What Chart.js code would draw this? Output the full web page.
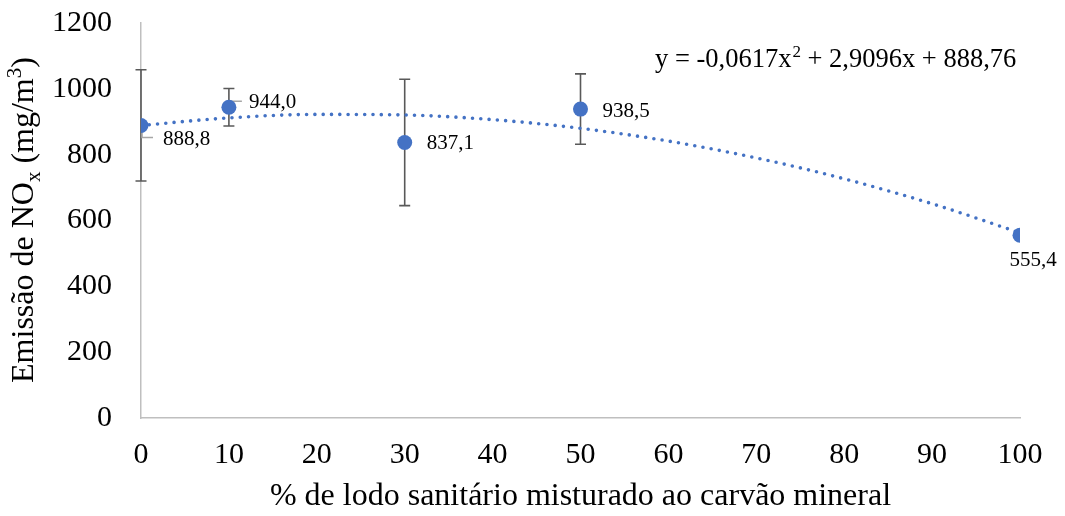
<!DOCTYPE html>
<html><head><meta charset="utf-8">
<script src="https://cdn.jsdelivr.net/npm/chart.js@4"></script>
<style>html,body{margin:0;padding:0;background:#fff}#wrap{width:1065px;height:516px;position:relative}</style>
</head><body><div id="wrap"><canvas id="c"></canvas></div>
<script>
// ---- data ----
const categories = [0, 10, 30, 50, 100];
const noxValues  = [888.8, 944.0, 837.1, 938.5, 555.4];
const noxErrors  = [169, 57, 192, 107, 0];
const trendX = [0, 10, 20, 30, 40, 50, 60, 70, 80, 90, 100];
const trendY = [888.8, 911.7, 922.3, 920.5, 906.4, 880.0, 841.2, 790.1, 726.6, 650.9, 562.7];
const xTicks = [0, 10, 20, 30, 40, 50, 60, 70, 80, 90, 100];
const yTicks = [0, 200, 400, 600, 800, 1000, 1200];
const xTitle = '% de lodo sanitário misturado ao carvão mineral';
const yTitleParts = ['Emissão de NO', 'x', ' (mg/m', '3', ')'];
const equationParts = ['y = -0,0617x', '2', ' + 2,9096x + 888,76'];

const SERIF = '"Liberation Serif", "Times New Roman", serif';
const BLUE = '#4472C4';

// label placement relative to each point: [dx, dy] of text left/middle, leader path
const labelLayout = [
  {dx: 22, dy: 14, align: 'left', leader: [[1, 5], [1, 12], [12, 12]]},
  {dx: 20, dy: -5, align: 'left', leader: [[1, -1], [1, -6], [13, -6]]},
  {dx: 22, dy: 1, align: 'left', leader: null},
  {dx: 22, dy: 2, align: 'left', leader: null},
  {dx: 13, dy: 25, align: 'center', leader: null}
];

const errorBarPlugin = {
  id: 'errorBars',
  beforeDatasetsDraw(chart) {
    const {ctx, scales: {x, y}} = chart;
    ctx.save();
    ctx.strokeStyle = '#595959';
    ctx.lineWidth = 1.6;
    categories.forEach((cx, i) => {
      const e = noxErrors[i];
      if (!e) return;
      const px = x.getPixelForValue(cx);
      const yt = y.getPixelForValue(noxValues[i] + e);
      const yb = y.getPixelForValue(noxValues[i] - e);
      ctx.beginPath();
      ctx.moveTo(px, yt); ctx.lineTo(px, yb);
      ctx.moveTo(px - 5.5, yt); ctx.lineTo(px + 5.5, yt);
      ctx.moveTo(px - 5.5, yb); ctx.lineTo(px + 5.5, yb);
      ctx.stroke();
    });
    ctx.strokeStyle = '#A6A6A6';
    ctx.lineWidth = 1.6;
    categories.forEach((cx, i) => {
      const L = labelLayout[i];
      if (!L.leader) return;
      const px = x.getPixelForValue(cx);
      const py = y.getPixelForValue(noxValues[i]);
      ctx.beginPath();
      L.leader.forEach((p, k) => {
        if (k === 0) ctx.moveTo(px + p[0], py + p[1]); else ctx.lineTo(px + p[0], py + p[1]);
      });
      ctx.stroke();
    });
    ctx.restore();
  },
  afterDatasetsDraw(chart) {
    const {ctx, scales: {x, y}} = chart;
    ctx.save();
    ctx.fillStyle = '#000';
    ctx.font = '21px ' + SERIF;
    ctx.textBaseline = 'middle';
    categories.forEach((cx, i) => {
      const L = labelLayout[i];
      const px = x.getPixelForValue(cx);
      const py = y.getPixelForValue(noxValues[i]);
      ctx.textAlign = L.align;
      ctx.fillText(noxValues[i].toFixed(1).replace('.', ','), px + L.dx, py + L.dy);
    });
    ctx.restore();
  },
  afterDraw(chart) {
    const {ctx} = chart;
    ctx.save();
    ctx.fillStyle = '#000';
    ctx.textBaseline = 'alphabetic';
    ctx.textAlign = 'left';
    const eqMain = '26.5px ' + SERIF, eqSup = '17px ' + SERIF;
    let ex = 655; const eb = 67;
    ctx.font = eqMain; ctx.fillText(equationParts[0], ex, eb); ex += ctx.measureText(equationParts[0]).width + 1;
    ctx.font = eqSup; ctx.fillText(equationParts[1], ex, eb - 10); ex += ctx.measureText(equationParts[1]).width;
    ctx.font = eqMain; ctx.fillText(equationParts[2], ex, eb);
    const tMain = '32px ' + SERIF, tSmall = '21px ' + SERIF;
    const fonts = [tMain, tSmall, tMain, tSmall, tMain];
    const shifts = [0, 7, 0, -12, 0];
    const widths = yTitleParts.map((t, k) => { ctx.font = fonts[k]; return ctx.measureText(t).width; });
    const total = widths.reduce((a, b) => a + b, 0);
    ctx.translate(33, 220);
    ctx.rotate(-Math.PI / 2);
    let tx = -total / 2;
    yTitleParts.forEach((t, k) => {
      ctx.font = fonts[k];
      ctx.fillText(t, tx, shifts[k]);
      tx += widths[k];
    });
    ctx.restore();
  }
};

new Chart(document.getElementById('c'), {
  type: 'scatter',
  data: {
    datasets: [
      {
        label: 'NOx',
        data: categories.map((cx, i) => ({x: cx, y: noxValues[i]})),
        backgroundColor: BLUE,
        borderColor: BLUE,
        pointRadius: 7.5,
        pointHoverRadius: 7.5,
        borderWidth: 0,
        showLine: false
      },
      {
        label: 'Tendência',
        data: trendX.map((tx, i) => ({x: tx, y: trendY[i]})),
        showLine: true,
        borderColor: BLUE,
        borderWidth: 3.6,
        borderDash: [0, 8.3],
        borderCapStyle: 'round',
        pointRadius: 0,
        cubicInterpolationMode: 'monotone',
        fill: false
      }
    ]
  },
  options: {
    responsive: true,
    maintainAspectRatio: false,
    animation: false,
    layout: {padding: {left: 0, right: 45, top: 23, bottom: 0}},
    plugins: {legend: {display: false}, tooltip: {enabled: false}},
    scales: {
      x: {
        type: 'linear', min: 0, max: 100,
        afterBuildTicks: s => { s.ticks = xTicks.map(v => ({value: v})); },
        afterFit: s => { s.height = 98; s.paddingLeft = 0; s.paddingRight = 0; },
        grid: {display: false, drawTicks: false},
        border: {display: true, color: '#BFBFBF', width: 1.5},
        ticks: {font: {family: SERIF, size: 30}, color: '#000', padding: 19, maxRotation: 0, autoSkip: false,
                callback: v => String(v)},
        title: {display: true, text: xTitle, color: '#000', font: {family: SERIF, size: 32}, padding: {top: 0, bottom: 0}}
      },
      y: {
        type: 'linear', min: 0, max: 1200,
        afterBuildTicks: s => { s.ticks = yTicks.map(v => ({value: v})); },
        afterFit: s => { s.width = 141; s.paddingTop = 0; s.paddingBottom = 0; },
        grid: {display: false, drawTicks: false},
        border: {display: true, color: '#BFBFBF', width: 1.5},
        ticks: {font: {family: SERIF, size: 30}, color: '#000', padding: 29, callback: v => String(v)}
      }
    }
  },
  plugins: [errorBarPlugin]
});
</script>
</body></html>
